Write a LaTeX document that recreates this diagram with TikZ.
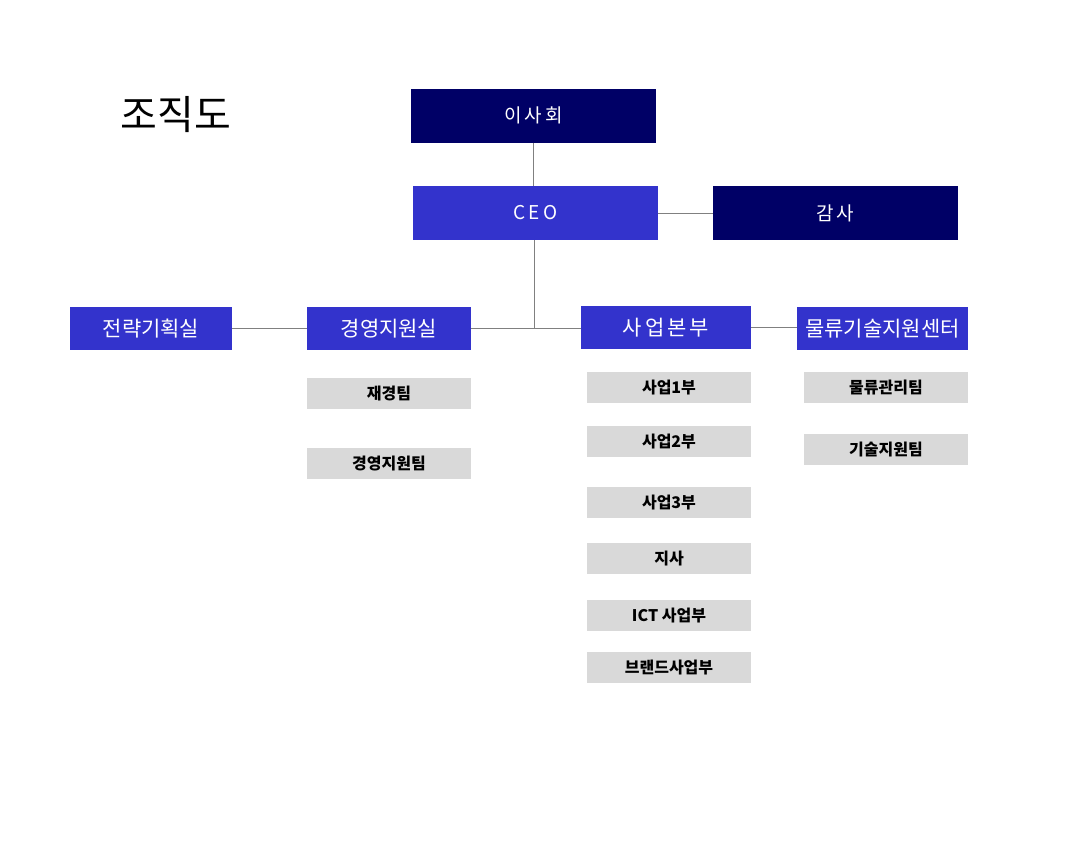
\documentclass[tikz,border=0pt]{standalone}
\usepackage{fontspec}
\setmainfont{Noto Sans CJK KR}
\usetikzlibrary{positioning}
\definecolor{boardnavy}{HTML}{000066}
\definecolor{deptblue}{HTML}{3333CC}
\definecolor{teamgray}{HTML}{D9D9D9}
\definecolor{linegray}{HTML}{808080}
\newcommand{\gap}{\hspace{3pt}}

\begin{document}
\begin{tikzpicture}[x=1pt, y=-1pt,
    topbox/.style={fill=boardnavy, text=white, minimum width=245pt, minimum height=54pt, inner sep=0pt, font=\fontsize{19pt}{22pt}\selectfont},
    ceobox/.style={topbox, fill=deptblue},
    deptbox/.style={fill=deptblue, text=white, minimum width=164pt, minimum height=43pt, inner sep=0pt, font=\fontsize{21pt}{24pt}\selectfont},
    teambox/.style={fill=teamgray, text=black, minimum width=164pt, minimum height=31pt, inner sep=0pt, font=\fontsize{16pt}{18pt}\selectfont\bfseries},
    link/.style={draw=linegray, line width=1pt}]
            \useasboundingbox (0,0) rectangle (1072,857);
            % 제목
            \node (title) at (176,115) {\fontsize{40pt}{44pt}\selectfont 조직도};

            % 상위 조직
            \node[topbox] (board) at (533.5,115.5) {이\gap 사\gap 회};
            \node[ceobox] (ceo) at (535.5,213) {C\gap E\gap O};
            \node[topbox] (audit) at (835.5,213) {감\gap 사};

            % 부서
            \node[deptbox, minimum width=162pt] (strategy) at (151,328.5) {전략기획실};
            \node[deptbox] (mgmt) at (389,328.5) {경영지원실};
            \node[deptbox, minimum width=170pt] (biz) at (666,327.5) {사\gap 업\gap 본\gap 부};
            \node[deptbox, minimum width=171pt] (logis) at (882.5,328.5) {물류기술지원센터};

            % 팀
            \node[teambox] (finance) at (389,393.5) {\raisebox{1.5pt}{재경팀}};
            \node[teambox] (mgmtteam) at (389,463.5) {\raisebox{1.5pt}{경영지원팀}};
            \node[teambox] (biz1) at (669,387.5) {\raisebox{1.5pt}{사업1부}};
            \node[teambox] (biz2) at (669,441.5) {\raisebox{1.5pt}{사업2부}};
            \node[teambox] (biz3) at (669,502.5) {\raisebox{1.5pt}{사업3부}};
            \node[teambox] (branch) at (669,558.5) {\raisebox{1.5pt}{지사}};
            \node[teambox] (ict) at (669,615.5) {\raisebox{1.5pt}{ICT 사업부}};
            \node[teambox] (brand) at (669,667.5) {\raisebox{1.5pt}{브랜드사업부}};
            \node[teambox] (logisteam) at (886,387.5) {\raisebox{1.5pt}{물류관리팀}};
            \node[teambox] (techteam) at (886,449.5) {\raisebox{1.5pt}{기술지원팀}};

            % 연결선
            \coordinate (junction) at (534,328.5);
            \draw[link] (board.south) -- (board.south |- ceo.north);
            \draw[link] (ceo.east) -- (audit.west);
            \draw[link] (ceo.south -| junction) -- (junction);
            \draw[link] (mgmt.east) -- (mgmt.east -| biz.west);
            \draw[link] (strategy.east) -- (mgmt.west);
            \draw[link] (biz.east) -- (biz.east -| logis.west);
        \end{tikzpicture}
\end{document}
